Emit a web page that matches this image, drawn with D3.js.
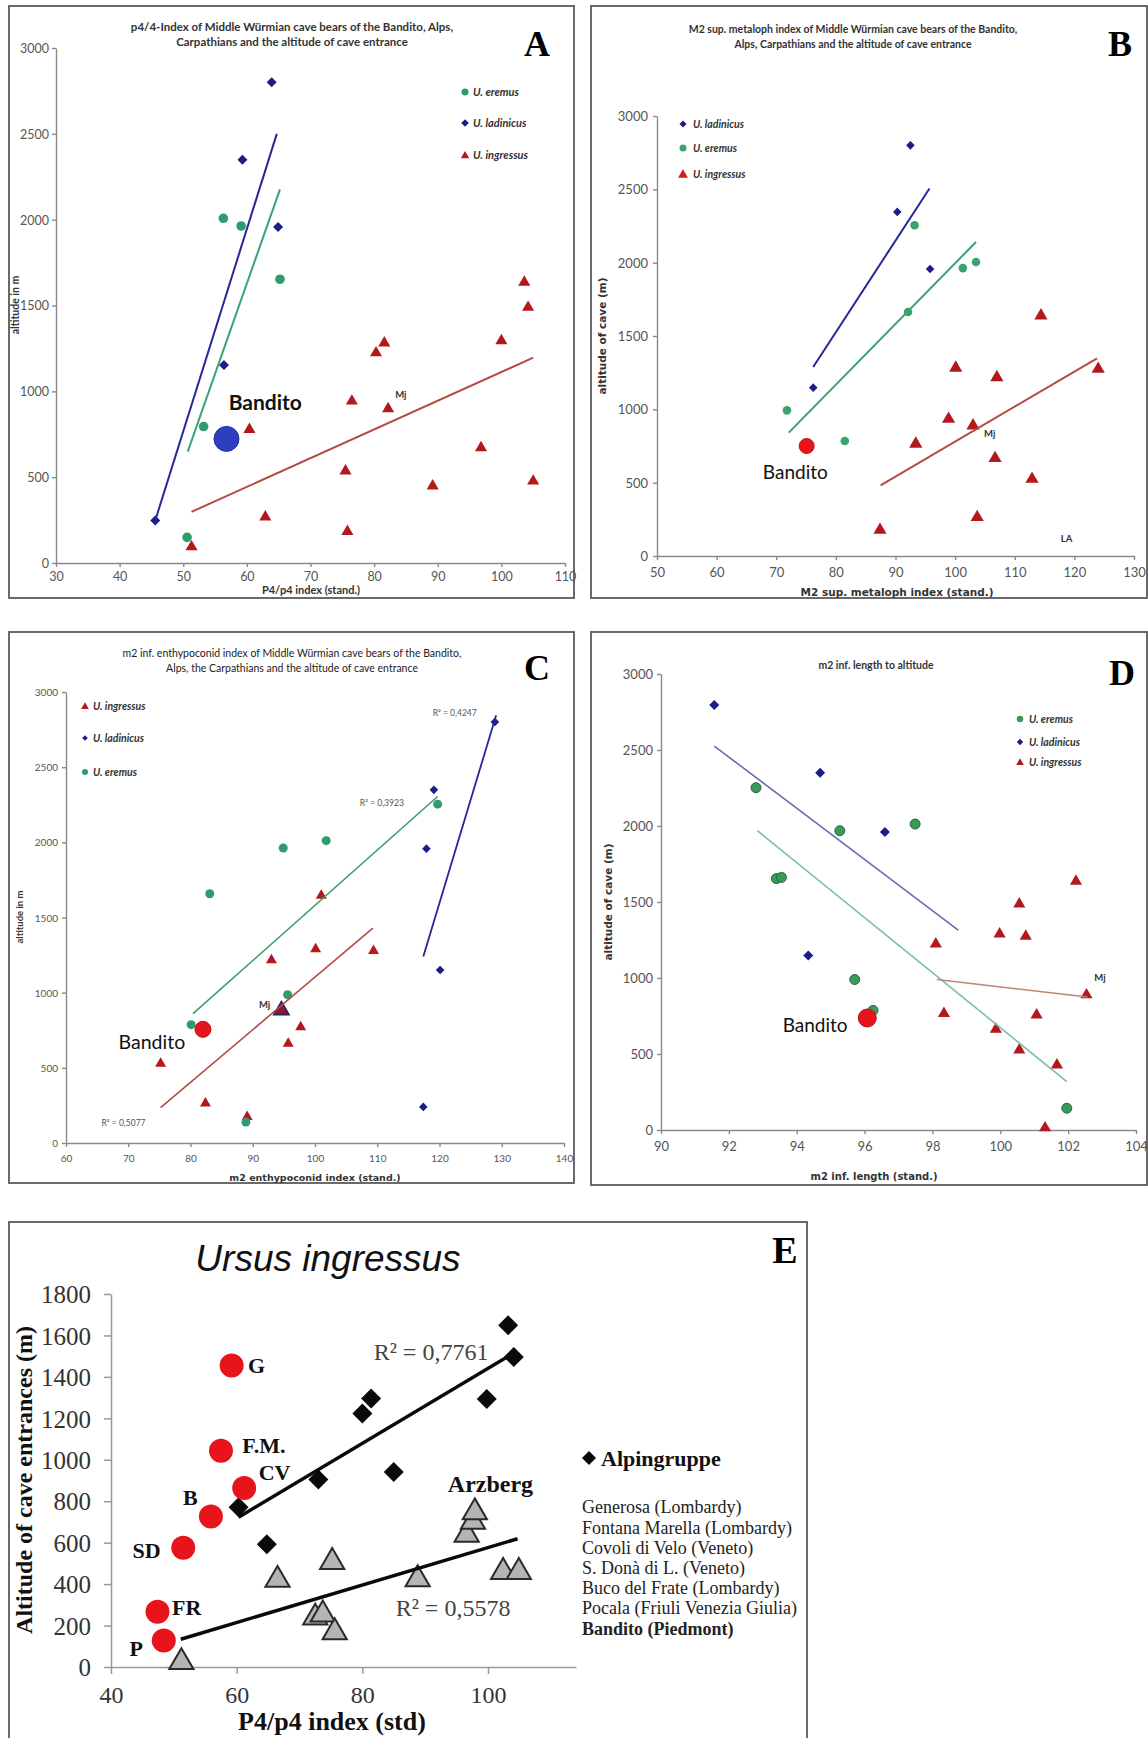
<!DOCTYPE html>
<html><head><meta charset="utf-8">
<script src="https://cdn.jsdelivr.net/npm/d3@7"></script>
<style>body{margin:0;background:#fff} svg{display:block}</style>
</head><body>
<svg id="fig" width="1148" height="1738"></svg>
<script>
// ---------------- DATA ----------------
const yTicks3000 = [0,500,1000,1500,2000,2500,3000];
const A_xTicks = [30,40,50,60,70,80,90,100,110];
const B_xTicks = [50,60,70,80,90,100,110,120,130];
const C_xTicks = [60,70,80,90,100,110,120,130,140];
const D_xTicks = [90,92,94,96,98,100,102,104];
const E_xTicks = [40,60,80,100];
const E_yTicks = [0,200,400,600,800,1000,1200,1400,1600,1800];

// Panel A: P4/p4 index vs altitude
const A_eremus = [[56.3,2008],[59.1,1963],[65.2,1653],[53.2,795],[50.6,149]];
const A_ladinicus = [[63.9,2800],[59.3,2349],[64.9,1957],[56.4,1153],[45.6,248]];
const A_ingressus = [[103.6,1643],[104.2,1496],[81.6,1289],[80.3,1231],[100,1302],[76.5,950],[82.2,905],[60.4,785],[96.8,678],[75.5,543],[89.2,455],[105,484],[62.9,275],[75.8,190],[51.3,101]];
const A_bandito = [[56.8,723]];
const A_trend_ladinicus = [[45.6,248],[64.7,2500]];
const A_trend_eremus = [[50.7,649],[65.2,2176]];
const A_trend_ingressus = [[51.3,298],[105,1196]];

// Panel B: M2 sup. metaloph index vs altitude
const B_ladinicus = [[92.5,2800],[90.3,2346],[95.8,1957],[76.2,1148]];
const B_eremus = [[93.2,2255],[101.3,1963],[103.5,2005],[92.1,1664],[71.8,993],[81.5,784]];
const B_ingressus = [[114.4,1648],[100.1,1291],[107,1227],[124,1284],[98.9,943],[103,898],[93.4,773],[106.7,675],[112.9,534],[103.7,273],[87.4,186]];
const B_bandito = [[75.1,750]];
const B_trend_ladinicus = [[76.2,1289],[95.7,2506]];
const B_trend_eremus = [[72.1,841],[103.5,2141]];
const B_trend_ingressus = [[87.5,482],[123.8,1348]];

// Panel C: m2 enthypoconid index vs altitude
const C_ladinicus = [[128.9,2801],[119.1,2349],[117.9,1958],[120.1,1151],[117.4,240]];
const C_eremus = [[119.7,2254],[101.8,2011],[94.9,1962],[83.1,1658],[95.6,986],[80.1,787],[88.9,139]];
const C_ingressus = [[101,1653],[100.1,1297],[93,1224],[109.4,1286],[97.7,779],[95.7,668],[75.2,536],[82.4,271],[89.1,181]];
const C_mj = [[94.6,893]];
const C_bandito = [[82,756]];
const C_trend_eremus = [[80.4,860],[119.7,2305]];
const C_trend_ingressus = [[75.2,236],[109.3,1429]];
const C_trend_ladinicus = [[117.4,1240],[129.1,2845]];

// Panel D: m2 inf. length vs altitude
const D_ladinicus = [[91.57,2796],[94.69,2351],[96.6,1961],[94.34,1148]];
const D_eremus = [[92.8,2252],[95.27,1969],[97.49,2013],[93.4,1654],[93.55,1662],[95.71,990],[101.96,143],[96.25,787]];
const D_ingressus = [[102.23,1645],[100.56,1495],[99.98,1298],[100.75,1282],[98.1,1232],[102.54,897],[98.34,774],[101.07,765],[99.87,671],[100.56,534],[101.67,435],[101.32,22]];
const D_bandito = [[96.08,737]];
const D_trend_ladinicus = [[91.57,2526],[98.76,1315]];
const D_trend_eremus = [[92.84,1969],[101.96,319]];
const D_trend_ingressus = [[98.13,990],[102.57,875]];

// Panel E: Ursus ingressus, P4/p4 index vs altitude
const E_alpine = [[103.2,1649],[104.1,1496],[81.4,1296],[80,1223],[99.8,1293],[85,941],[73,905],[60.3,771],[64.8,592]];
const E_italian = [[59.2,1455],[57.5,1044],[61.2,864],[55.9,726],[51.5,576],[47.4,267],[48.4,128]];
const E_italianNames = ["G","F.M.","CV","B","SD","FR","P"];
const E_other = [[96.6,650],[97.6,712],[97.9,758],[75.2,518],[66.5,432],[88.8,435],[102.4,470],[104.9,470],[72.5,250],[73.7,265],[75.6,179],[51.2,35]];
const E_trend_alpine = [[60.3,723],[104.1,1515]];
const E_trend_other = [[51.1,134],[104.7,619]];
const E_caveList = ["Generosa (Lombardy)","Fontana Marella (Lombardy)","Covoli di Velo (Veneto)","S. Donà di L. (Veneto)","Buco del Frate (Lombardy)","Pocala (Friuli Venezia Giulia)","Bandito (Piedmont)"];

// ---------------- DRAWING ----------------
const svg = d3.select('#fig');
const GREEN = '#2f9c6c', NAVY = '#1d1d8a', RED = '#b3191c', BRED = '#e8141c';
const CAL = 'Lato, "Noto Sans", sans-serif';
const VER = '"DejaVu Sans", Verdana, sans-serif';
const TNR = '"Liberation Serif", "Times New Roman", serif';
const ARI = '"Liberation Sans", Arial, sans-serif';

function shapePath(type, s) {
  if (type === 'diamond') return `M0,${-s}L${s},0L0,${s}L${-s},0Z`;
  if (type === 'triangle') return `M0,${-s*1.05}L${s*1.1},${s*0.85}L${-s*1.1},${s*0.85}Z`;
  return d3.symbol(d3.symbolCircle, Math.PI*s*s)();
}

function drawMarks(g, x, y, data, type, size, fill, stroke, sw) {
  g.append('g').selectAll('path').data(data).join('path')
    .attr('d', shapePath(type, size))
    .attr('transform', d => `translate(${x(d[0])},${y(d[1])})`)
    .attr('fill', fill).attr('stroke', stroke || 'none').attr('stroke-width', sw || 0);
}

function drawTrend(g, x, y, data, color, w) {
  g.append('path').datum(data)
    .attr('d', d3.line().x(d => x(d[0])).y(d => y(d[1])))
    .attr('fill', 'none').attr('stroke', color).attr('stroke-width', w);
}

function panel(p) {
  const g = svg.append('g');
  g.append('rect').attr('x', p.box[0]).attr('y', p.box[1])
    .attr('width', p.box[2]-p.box[0]).attr('height', p.box[3]-p.box[1])
    .attr('fill', '#fff').attr('stroke', '#5a5a5a').attr('stroke-width', 1.8);
  const x = d3.scaleLinear().domain(p.xDomain).range(p.xRange);
  const y = d3.scaleLinear().domain(p.yDomain).range(p.yRange);
  const fmt = d3.format('d');
  const xa = g.append('g').attr('transform', `translate(0,${p.yRange[0]})`)
    .call(d3.axisBottom(x).tickValues(p.xTicks).tickFormat(fmt).tickSize(p.tick).tickSizeOuter(0));
  const ya = g.append('g').attr('transform', `translate(${p.xRange[0]},0)`)
    .call(d3.axisLeft(y).tickValues(p.yTicks).tickFormat(fmt).tickSize(p.tick).tickSizeOuter(0));
  [xa, ya].forEach(a => {
    a.attr('font-family', p.tickFont);
    a.select('.domain').attr('stroke', p.axisColor).attr('stroke-width', p.axisW);
    a.selectAll('.tick line').attr('stroke', p.axisColor).attr('stroke-width', p.axisW);
    a.selectAll('text').attr('fill', p.tickColor);
  });
  xa.attr('font-size', p.xTickSize || p.tickSize);
  ya.attr('font-size', p.tickSize);
  xa.selectAll('text').attr('y', p.xLabOff).attr('dy', '0.35em');
  ya.selectAll('text').attr('x', -p.yLabOff).attr('dy', '0.35em');
  // title
  (p.title || []).forEach((t, i) => {
    g.append('text').attr('x', p.titleX).attr('y', p.titleY[i]).attr('dy', '0.35em')
      .attr('text-anchor', 'middle').attr('font-family', p.titleFont || CAL)
      .attr('font-size', p.titleSize).attr('font-weight', p.titleWeight)
      .attr('font-style', p.titleStyle || 'normal').attr('fill', p.titleColor || '#333').text(t);
  });
  // panel letter
  g.append('text').attr('x', p.letterPos[0]).attr('y', p.letterPos[1]).attr('dy', '0.35em')
    .attr('text-anchor', 'middle').attr('font-family', TNR).attr('font-weight', 'bold')
    .attr('font-size', p.letterSize).attr('fill', '#000').text(p.letter);
  // axis labels
  g.append('text').attr('x', p.xLabelPos[0]).attr('y', p.xLabelPos[1]).attr('dy', '0.35em')
    .attr('text-anchor', 'middle').attr('font-family', p.xLabelFont).attr('font-weight', 'bold')
    .attr('font-size', p.xLabelSize).attr('fill', p.labelColor || '#333').text(p.xLabel);
  g.append('text').attr('transform', `translate(${p.yLabelPos[0]},${p.yLabelPos[1]}) rotate(-90)`)
    .attr('dy', '0.35em').attr('text-anchor', 'middle').attr('font-family', p.yLabelFont)
    .attr('font-weight', 'bold').attr('font-size', p.yLabelSize).attr('fill', p.labelColor || '#333').text(p.yLabel);
  // marks
  p.series.forEach(s => drawMarks(g, x, y, s.data, s.type, s.size, s.fill, s.stroke, s.sw));
  p.trends.forEach(t => drawTrend(g, x, y, t.data, t.color, t.width));
  // annotations in data coordinates
  (p.notes || []).forEach(n => {
    g.append('text').attr('x', x(n.x)).attr('y', y(n.y)).attr('dy', '0.35em')
      .attr('text-anchor', n.anchor || 'start').attr('font-family', n.font)
      .attr('font-size', n.size).attr('font-weight', n.weight || 'normal')
      .attr('fill', n.color || '#111').text(n.text);
  });
  // legend
  (p.legend || []).forEach((l, i) => {
    const ly = p.legendY[i];
    g.append('path').attr('d', shapePath(l.type, l.size))
      .attr('transform', `translate(${p.legendX},${ly})`).attr('fill', l.fill);
    g.append('text').attr('x', p.legendX + p.legendGap).attr('y', ly).attr('dy', '0.35em')
      .attr('font-family', CAL).attr('font-style', 'italic').attr('font-weight', 'bold')
      .attr('font-size', p.legendSize).attr('fill', '#333').text(l.label);
  });
  return {g, x, y};
}

// ---- Panel A ----
panel({
  box: [9, 6, 574, 598], xDomain: [30, 110], xRange: [56, 565], yDomain: [0, 3000], yRange: [563, 48],
  xTicks: A_xTicks, yTicks: yTicks3000, tick: 4, tickFont: CAL, tickSize: 12.5, tickColor: '#555',
  axisColor: '#8a8a8a', axisW: 1.4, xLabOff: 14, yLabOff: 7,
  title: ['p4/4-Index of Middle Würmian cave bears of the Bandito, Alps,', 'Carpathians  and the altitude of cave entrance'],
  titleX: 292, titleY: [27, 42], titleSize: 11.5, titleWeight: 'bold',
  letter: 'A', letterPos: [537, 43], letterSize: 36,
  xLabel: 'P4/p4 index (stand.)', xLabelPos: [311, 590], xLabelFont: CAL, xLabelSize: 11,
  yLabel: 'altitude in m', yLabelPos: [15, 305], yLabelFont: CAL, yLabelSize: 10.5,
  series: [
    {data: A_ingressus, type: 'triangle', size: 5.5, fill: RED},
    {data: A_eremus, type: 'circle', size: 4.8, fill: GREEN},
    {data: A_ladinicus, type: 'diamond', size: 5, fill: NAVY},
    {data: A_bandito, type: 'circle', size: 12.5, fill: '#2b3fbf', stroke: '#2233a0', sw: 1}
  ],
  trends: [
    {data: A_trend_ladinicus, color: '#26269a', width: 2},
    {data: A_trend_eremus, color: '#3aa276', width: 2},
    {data: A_trend_ingressus, color: '#b54a42', width: 2}
  ],
  notes: [
    {x: 62.9, y: 934, text: 'Bandito', anchor: 'middle', font: CAL, size: 21, weight: 'bold'},
    {x: 84.2, y: 983, text: 'Mj', anchor: 'middle', font: CAL, size: 9.5, weight: 'bold', color: '#333'}
  ],
  legend: [
    {type: 'circle', size: 3.5, fill: GREEN, label: 'U. eremus'},
    {type: 'diamond', size: 3.8, fill: NAVY, label: 'U. ladinicus'},
    {type: 'triangle', size: 3.8, fill: RED, label: 'U. ingressus'}
  ],
  legendX: 465, legendY: [92, 123, 155], legendGap: 8, legendSize: 11
});

// ---- Panel B ----
panel({
  box: [591, 6, 1147, 598], xDomain: [50, 130], xRange: [657, 1134], yDomain: [0, 3000], yRange: [556, 116],
  xTicks: B_xTicks, yTicks: yTicks3000, tick: 4, tickFont: CAL, tickSize: 13, tickColor: '#555',
  axisColor: '#8a8a8a', axisW: 1.4, xLabOff: 16, yLabOff: 9,
  title: ['M2 sup. metaloph index of Middle Würmian cave bears of the Bandito,', 'Alps, Carpathians and the altitude of cave entrance'],
  titleX: 853, titleY: [29, 44], titleSize: 10.5, titleWeight: 'bold',
  letter: 'B', letterPos: [1120, 43], letterSize: 36,
  xLabel: 'M2 sup. metaloph index (stand.)', xLabelPos: [897, 592], xLabelFont: VER, xLabelSize: 10.5,
  yLabel: 'altitude of cave (m)', yLabelPos: [602, 336], yLabelFont: VER, yLabelSize: 10.5,
  series: [
    {data: B_ingressus, type: 'triangle', size: 6, fill: RED},
    {data: B_eremus, type: 'circle', size: 4.3, fill: '#3aa36f'},
    {data: B_ladinicus, type: 'diamond', size: 4.3, fill: NAVY},
    {data: B_bandito, type: 'circle', size: 7.5, fill: BRED, stroke: '#c0101a', sw: 1}
  ],
  trends: [
    {data: B_trend_ladinicus, color: '#26269a', width: 2},
    {data: B_trend_eremus, color: '#3aa276', width: 2},
    {data: B_trend_ingressus, color: '#b54a42', width: 2}
  ],
  notes: [
    {x: 73.2, y: 568, text: 'Bandito', anchor: 'middle', font: CAL, size: 19},
    {x: 105.8, y: 836, text: 'Mj', anchor: 'middle', font: CAL, size: 9.5, weight: 'bold', color: '#333'},
    {x: 118.7, y: 118, text: 'LA', anchor: 'middle', font: CAL, size: 9.5, weight: 'bold', color: '#333'}
  ],
  legend: [
    {type: 'diamond', size: 3.5, fill: NAVY, label: 'U. ladinicus'},
    {type: 'circle', size: 3.5, fill: '#3aa36f', label: 'U. eremus'},
    {type: 'triangle', size: 4.5, fill: '#d41c1c', label: 'U. ingressus'}
  ],
  legendX: 683, legendY: [124, 148, 174], legendGap: 10, legendSize: 10.5
});

// ---- Panel C ----
panel({
  box: [9, 632, 574, 1183], xDomain: [60, 140], xRange: [66, 564], yDomain: [0, 3000], yRange: [1143, 692],
  xTicks: C_xTicks, yTicks: yTicks3000, tick: 4, tickFont: CAL, tickSize: 10, tickColor: '#555',
  axisColor: '#8a8a8a', axisW: 1.4, xLabOff: 15, yLabOff: 8,
  title: ['m2 inf. enthypoconid index of Middle Würmian cave bears of the Bandito,', 'Alps, the Carpathians and the altitude of cave entrance'],
  titleX: 292, titleY: [653, 668], titleSize: 10.5, titleWeight: 'normal', titleColor: '#222',
  letter: 'C', letterPos: [537, 667], letterSize: 36,
  xLabel: 'm2 enthypoconid index (stand.)', xLabelPos: [315, 1178], xLabelFont: VER, xLabelSize: 9.5,
  yLabel: 'altitude in m', yLabelPos: [20, 917], yLabelFont: CAL, yLabelSize: 9.5,
  series: [
    {data: C_ingressus, type: 'triangle', size: 5, fill: RED},
    {data: C_eremus, type: 'circle', size: 4.5, fill: GREEN},
    {data: C_ladinicus, type: 'diamond', size: 4.3, fill: NAVY},
    {data: C_mj, type: 'triangle', size: 7, fill: '#8c1a2c', stroke: '#20206a', sw: 1.5},
    {data: C_bandito, type: 'circle', size: 8, fill: BRED, stroke: '#b81018', sw: 1}
  ],
  trends: [
    {data: C_trend_eremus, color: '#3a9c72', width: 1.6},
    {data: C_trend_ingressus, color: '#b54a42', width: 1.6},
    {data: C_trend_ladinicus, color: '#26269a', width: 1.8}
  ],
  notes: [
    {x: 73.8, y: 673, text: 'Bandito', anchor: 'middle', font: CAL, size: 19.5},
    {x: 91.9, y: 922, text: 'Mj', anchor: 'middle', font: CAL, size: 9.5, weight: 'bold', color: '#333'},
    {x: 65.7, y: 132, text: 'R² = 0,5077', anchor: 'start', font: CAL, size: 8.5, color: '#555'},
    {x: 107.2, y: 2260, text: 'R² = 0,3923', anchor: 'start', font: CAL, size: 8.5, color: '#555'},
    {x: 118.9, y: 2857, text: 'R² = 0,4247', anchor: 'start', font: CAL, size: 8.5, color: '#555'}
  ],
  legend: [
    {type: 'triangle', size: 3.5, fill: RED, label: 'U. ingressus'},
    {type: 'diamond', size: 2.8, fill: NAVY, label: 'U. ladinicus'},
    {type: 'circle', size: 3, fill: GREEN, label: 'U. eremus'}
  ],
  legendX: 85, legendY: [706, 738, 772], legendGap: 8, legendSize: 10.5
});

// ---- Panel D ----
panel({
  box: [591, 632, 1147, 1185], xDomain: [90, 104], xRange: [661, 1136], yDomain: [0, 3000], yRange: [1130, 674],
  xTicks: D_xTicks, yTicks: yTicks3000, tick: 4, tickFont: CAL, tickSize: 13, tickColor: '#555',
  axisColor: '#8a8a8a', axisW: 1.4, xLabOff: 16, yLabOff: 8,
  title: ['m2 inf. length to altitude'],
  titleX: 876, titleY: [665], titleSize: 10.5, titleWeight: 'bold', titleColor: '#333',
  letter: 'D', letterPos: [1122, 672], letterSize: 36,
  xLabel: 'm2 inf. length (stand.)', xLabelPos: [874, 1176], xLabelFont: VER, xLabelSize: 10,
  yLabel: 'altitude of cave (m)', yLabelPos: [608, 902], yLabelFont: VER, yLabelSize: 10.5,
  series: [
    {data: D_ingressus, type: 'triangle', size: 5.5, fill: RED},
    {data: D_eremus, type: 'circle', size: 5, fill: '#3a9a5c', stroke: '#246b3c', sw: 1},
    {data: D_ladinicus, type: 'diamond', size: 5, fill: NAVY},
    {data: D_bandito, type: 'circle', size: 9, fill: BRED, stroke: '#b81018', sw: 1}
  ],
  trends: [
    {data: D_trend_ladinicus, color: '#6a6aae', width: 1.6},
    {data: D_trend_eremus, color: '#7cbfa6', width: 1.6},
    {data: D_trend_ingressus, color: '#c0837a', width: 1.6}
  ],
  notes: [
    {x: 95.5, y: 686, text: 'Bandito', anchor: 'end', font: CAL, size: 19},
    {x: 102.94, y: 1000, text: 'Mj', anchor: 'middle', font: CAL, size: 9.5, weight: 'bold', color: '#333'}
  ],
  legend: [
    {type: 'circle', size: 3.3, fill: '#3a9a5c', label: 'U. eremus'},
    {type: 'diamond', size: 3.2, fill: NAVY, label: 'U. ladinicus'},
    {type: 'triangle', size: 3.5, fill: RED, label: 'U. ingressus'}
  ],
  legendX: 1020, legendY: [719, 742, 762], legendGap: 9, legendSize: 10.5
});

// ---- Panel E ----
const E = panel({
  box: [9, 1222, 807, 1760], xDomain: [40, 114], xRange: [111, 576], yDomain: [0, 1800], yRange: [1667, 1294],
  xTicks: E_xTicks, yTicks: E_yTicks, tick: 7, tickFont: TNR, tickSize: 25, xTickSize: 24, tickColor: '#333',
  axisColor: '#9a9a9a', axisW: 1.5, xLabOff: 28, yLabOff: 20,
  title: ['Ursus ingressus'], titleX: 328, titleY: [1258], titleSize: 37, titleWeight: 'normal',
  titleStyle: 'italic', titleFont: ARI, titleColor: '#111',
  letter: 'E', letterPos: [785, 1250], letterSize: 38,
  xLabel: 'P4/p4 index (std)', xLabelPos: [332, 1721], xLabelFont: TNR, xLabelSize: 26, labelColor: '#111',
  yLabel: 'Altitude of cave entrances (m)', yLabelPos: [24, 1480], yLabelFont: TNR, yLabelSize: 24,
  series: [
    {data: E_other, type: 'triangle', size: 11, fill: '#b4b4b4', stroke: '#2a2a2a', sw: 2},
    {data: E_alpine, type: 'diamond', size: 10, fill: '#0a0a0a'},
    {data: E_italian, type: 'circle', size: 12, fill: '#e8141c'}
  ],
  trends: [
    {data: E_trend_alpine, color: '#0a0a0a', width: 3.5},
    {data: E_trend_other, color: '#0a0a0a', width: 3.5}
  ],
  notes: [
    {x: 81.8, y: 1524, text: 'R² = 0,7761', font: TNR, size: 24, color: '#444'},
    {x: 85.3, y: 289, text: 'R² = 0,5578', font: TNR, size: 24, color: '#444'},
    {x: 93.6, y: 887, text: 'Arzberg', font: TNR, size: 24, weight: 'bold', color: '#111'}
  ]
});
// labels next to the Italian caves
const E_labelPos = [[61.8,1455,'start'],[60.9,1068,'start'],[63.5,941,'start'],[53.8,819,'end'],[47.9,565,'end'],[49.7,289,'start'],[45.1,88,'end']];
E.g.append('g').selectAll('text').data(E_italianNames).join('text')
  .attr('x', (d, i) => E.x(E_labelPos[i][0])).attr('y', (d, i) => E.y(E_labelPos[i][1]))
  .attr('dy', '0.35em').attr('text-anchor', (d, i) => E_labelPos[i][2])
  .attr('font-family', TNR).attr('font-weight', 'bold').attr('font-size', 22).attr('fill', '#111')
  .text(d => d);
// legend for E
E.g.append('path').attr('d', shapePath('diamond', 7)).attr('transform', 'translate(589,1458)').attr('fill', '#0a0a0a');
E.g.append('text').attr('x', 601).attr('y', 1458).attr('dy', '0.35em').attr('font-family', TNR)
  .attr('font-weight', 'bold').attr('font-size', 22).attr('fill', '#111').text('Alpingruppe');
E.g.append('g').selectAll('text').data(E_caveList).join('text')
  .attr('x', 582).attr('y', (d, i) => 1507 + i * 20.2).attr('dy', '0.35em')
  .attr('font-family', TNR).attr('font-size', 18).attr('fill', '#222')
  .attr('font-weight', (d, i) => i === E_caveList.length - 1 ? 'bold' : 'normal')
  .text(d => d);
</script></body></html>
